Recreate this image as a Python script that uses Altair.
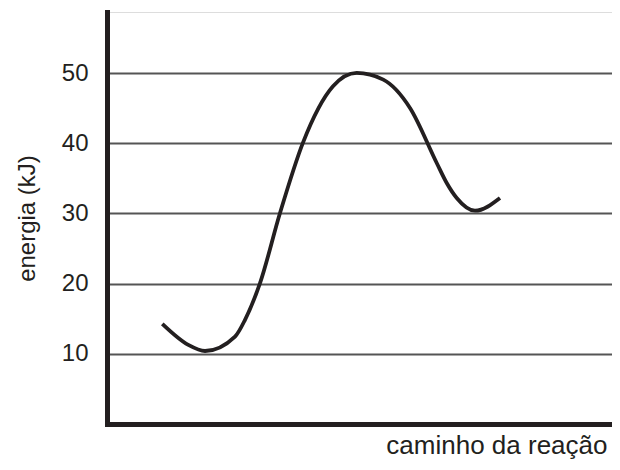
import altair as alt
import pandas as pd

# reaction coordinate (arbitrary units 0-100) and energy (kJ)
caminho = [10.95, 16.10, 19.41, 25.35, 27.33, 30.30, 34.26, 38.81, 44.75, 49.45,
           54.71, 60.00, 65.29, 67.27, 69.25, 72.87, 77.82]
energia = [14.27, 11.27, 10.40, 12.45, 14.84, 20.07, 30.06, 40.09, 48.12, 50.03,
           49.07, 45.03, 37.19, 34.34, 32.20, 30.39, 32.20]
y_ticks = [10, 20, 30, 40, 50]

df = pd.DataFrame({"x": caminho, "y": energia, "ordem": list(range(len(caminho)))})

FONT = "Liberation Sans"
DARK = "#231f20"

chart = (
    alt.Chart(df)
    .mark_line(color=DARK, strokeWidth=3.8, interpolate="monotone", strokeCap="butt")
    .encode(
        x=alt.X(
            "x:Q",
            scale=alt.Scale(domain=[0, 100], nice=False, zero=False),
            axis=alt.Axis(
                title="caminho da reação",
                titleAnchor="end",
                titleAlign="right",
                titleX=500,
                titlePadding=8,
                labels=False,
                ticks=False,
                grid=False,
                domainColor=DARK,
                domainWidth=5,
                domainCap="square",
            ),
        ),
        y=alt.Y(
            "y:Q",
            scale=alt.Scale(domain=[0, 58.7], nice=False, zero=False),
            axis=alt.Axis(
                title="energia (kJ)",
                values=y_ticks,
                titlePadding=22,
                labelPadding=19,
                ticks=False,
                grid=True,
                gridColor="#555555",
                gridWidth=1.8,
                domainColor=DARK,
                domainWidth=5,
                domainCap="square",
            ),
        ),
        order="ordem:Q",
    )
    .properties(
        width=505,
        height=412,
        autosize=alt.AutoSizeParams(type="none"),
        padding={"left": 99, "top": 4, "right": 0, "bottom": 40},
    )
    .configure_view(stroke=None)
    .configure(background="white")
    .configure_axisX(
        titleFont=FONT, titleFontSize=26, titleFontWeight="normal", titleColor=DARK,
    )
    .configure_axisY(
        titleFont=FONT, titleFontSize=24, titleFontWeight="normal", titleColor=DARK,
        labelFont=FONT, labelFontSize=24, labelColor=DARK,
    )
)

chart.save("out.html", embed_options={"renderer": "svg", "actions": False})
